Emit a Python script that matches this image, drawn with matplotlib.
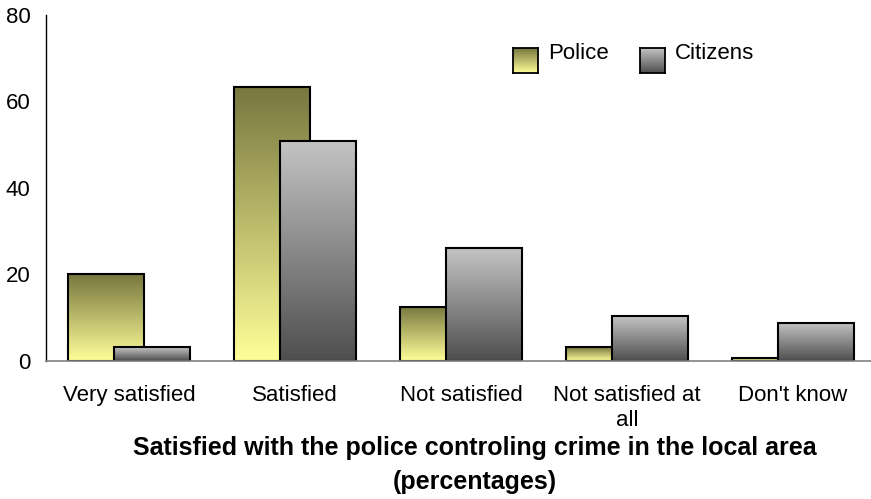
import numpy as np
import matplotlib
matplotlib.use("Agg")
import matplotlib.pyplot as plt
from matplotlib.colors import LinearSegmentedColormap
from matplotlib.patches import Rectangle

plt.rcParams['font.family'] = ['Liberation Sans', 'DejaVu Sans']

categories = ["Very satisfied", "Satisfied", "Not satisfied", "Not satisfied at\nall", "Don't know"]
police = [20.1, 63.4, 12.5, 3.2, 0.7]
citizens = [3.2, 50.9, 26.1, 10.4, 8.8]
series_names = ["Police", "Citizens"]
yticks = [0, 20, 40, 60, 80]
title = "Satisfied with the police controling crime in the local area\n(percentages)"

# vertical gradients: bottom colour -> top colour
police_cmap = LinearSegmentedColormap.from_list("police", ["#ffff99", "#77773f"])
citizens_cmap = LinearSegmentedColormap.from_list("citizens", ["#4e4e4e", "#c4c4c4"])

W, H = 871, 499
fig = plt.figure(figsize=(W / 100, H / 100), dpi=100)
ax = fig.add_axes([46 / W, (H - 361) / H, 830 / W, 346 / H])

bar_w = 0.458
offset = 0.277
grad = np.linspace(0, 1, 256).reshape(-1, 1)
x = np.arange(len(categories))


def gradient_bar(ax, left, height, cmap, z):
    ax.imshow(grad, extent=(left, left + bar_w, 0, height), origin="lower",
              aspect="auto", cmap=cmap, zorder=z, interpolation="bicubic")
    ax.add_patch(Rectangle((left, 0), bar_w, height, fill=False,
                           edgecolor="black", linewidth=1.5, zorder=z + 0.1))


for i in range(len(categories)):
    left_p = x[i] - (bar_w + offset) / 2
    gradient_bar(ax, left_p, police[i], police_cmap, 2)
    gradient_bar(ax, left_p + offset, citizens[i], citizens_cmap, 3)

ax.set_xlim(-0.5, 4.5)
ax.set_ylim(0, 80)
ax.set_yticks(yticks)
ax.set_xticks(x)
ax.set_xticklabels(categories, fontsize=16, linespacing=1.3)
ax.tick_params(axis="both", length=0, labelsize=16)
ax.tick_params(axis="y", pad=11)
ax.tick_params(axis="x", pad=17)

for s in ["top", "right"]:
    ax.spines[s].set_visible(False)
ax.spines["left"].set_color("black")
ax.spines["left"].set_linewidth(1.0)
ax.spines["bottom"].set_color("#808080")
ax.spines["bottom"].set_linewidth(1.2)
ax.spines["bottom"].set_zorder(5)

# legend swatches with gradients, drawn in figure pixels
def legend_item(px, label, cmap):
    lax = fig.add_axes([px / W, (H - 73) / H, 25 / W, 25 / H])
    lax.imshow(grad, extent=(0, 1, 0, 1), origin="lower", aspect="auto", cmap=cmap)
    for s in lax.spines.values():
        s.set_linewidth(1.3)
        s.set_color("black")
    lax.set_xticks([])
    lax.set_yticks([])
    fig.text((px + 35) / W, (H - 59) / H, label, fontsize=16, ha="left", va="baseline")


legend_item(513, series_names[0], police_cmap)
legend_item(640, series_names[1], citizens_cmap)

fig.text(475 / W, (H - 465) / H, title, fontsize=18, fontweight="bold",
         ha="center", va="center", linespacing=1.5)

fig.savefig("out.png", dpi=100)
